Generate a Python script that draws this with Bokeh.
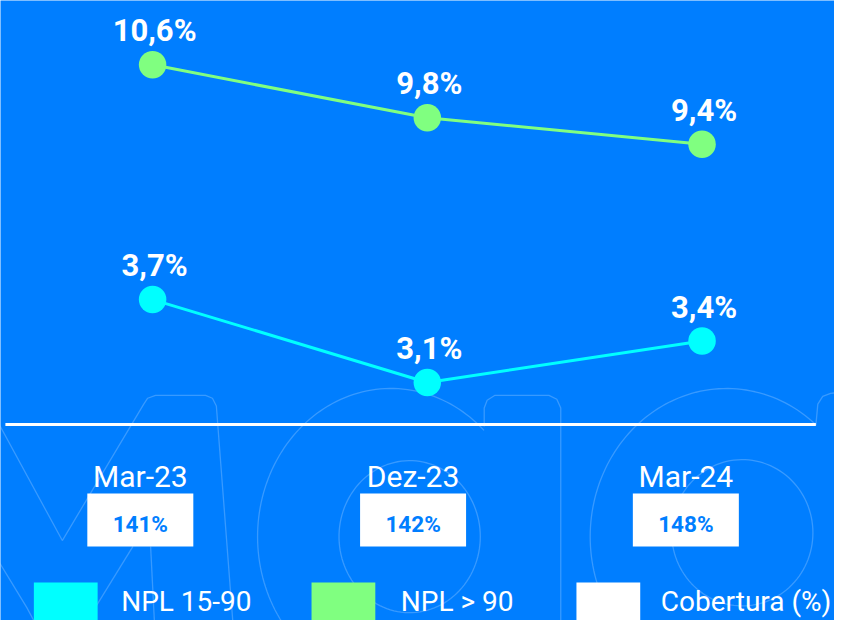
import numpy as np
from bokeh.plotting import figure
from bokeh.models import Range1d
from bokeh.core.properties import value
from bokeh.embed import file_html
from bokeh.resources import INLINE

# ---- data ----
periods = ["Mar-23", "Dez-23", "Mar-24"]
npl_15_90 = [3.7, 3.1, 3.4]
npl_90 = [10.6, 9.8, 9.4]
cobertura = [141, 142, 148]
legend_labels = ["NPL 15-90", "NPL > 90", "Cobertura (%)"]

# ---- style / layout ----
BG = "#007EFF"
CYAN = "#00FFFF"
GREEN = "#80FF80"
legend_colors = [CYAN, GREEN, "white"]
W, H = 834, 620          # canvas; layout below is given in an 850x636 design space
RW, RH = 850, 636
FONT = value("Roboto")

idx = list(range(len(periods)))


def pct(v):
    return f"{v:.1f}%".replace(".", ",")


p = figure(width=W, height=H, output_backend="svg", toolbar_location=None,
           x_range=Range1d(-0.5536, 2.4821), y_range=Range1d(2.217, 11.570),
           x_axis_location=None, y_axis_location=None, min_border=0,
           background_fill_color=BG, border_fill_color=BG, outline_line_color=None)
p.grid.visible = False
p.extra_y_ranges = {"cyan": Range1d(1.377, 5.865), "py": Range1d(RH, 0)}
p.extra_x_ranges = {"lab": Range1d(-0.5126, 2.5450), "px": Range1d(0, RW)}
L = dict(x_range_name="px", y_range_name="py")

# ---- faint watermark (decorative outline of logo letters) ----
WM = dict(line_color="white", line_alpha=0.22, line_width=1.3, **L)


def wline(pts):
    p.line([x for x, _ in pts], [y for _, y in pts], **WM)


def warc(cx, cy, a, b, t0, t1):
    t = np.linspace(t0, t1, 120)
    wline(list(zip(cx + a * np.cos(t), cy - b * np.sin(t))))


wline([(-5, 428), (63, 554), (146, 414), (150, 408), (158, 405), (209, 405),
       (216, 408), (220, 416), (237, 640)])
wline([(-5, 570), (27, 623), (36, 640)])
wline([(86, 640), (135, 560)])
wline([(153, 560), (157, 640)])
warc(398, 550, 136, 152, 0.80, 4.85)
warc(417, 550, 72, 78, 0, 2 * np.pi)
wline([(493, 437), (493, 418), (496, 410), (504, 405), (559, 405), (567, 409),
       (571, 418), (571, 640)])
warc(740, 550, 139, 152, 0.857, 4.85)
warc(756, 546, 72, 75, 0, 2 * np.pi)
wline([(831, 436), (833, 414), (838, 406), (846, 403), (855, 402)])

# ---- separator ----
p.segment(x0=5, y0=435, x1=831, y1=435, line_color="white", line_width=3, **L)

# ---- series ----
LBL = dict(y_offset=-34, x_offset=2, text_align="center", text_baseline="alphabetic",
           text_color="white", text_font=FONT, text_font_style="bold", text_font_size="31px")
p.line(idx, npl_90, line_color=GREEN, line_width=3)
p.scatter(idx, npl_90, size=27.5, fill_color=GREEN, line_color=None)
p.text(idx, npl_90, text=[pct(v) for v in npl_90], **LBL)

p.line(idx, npl_15_90, line_color=CYAN, line_width=3, y_range_name="cyan")
p.scatter(idx, npl_15_90, size=27.5, fill_color=CYAN, line_color=None, y_range_name="cyan")
p.text(idx, npl_15_90, text=[pct(v) for v in npl_15_90], y_range_name="cyan", **LBL)

# ---- categories and coverage boxes ----
p.text(x=idx, y=488, text=periods, x_range_name="lab", y_range_name="py",
       text_align="center", text_baseline="alphabetic", text_color="white",
       text_font=FONT, text_font_size="30px")
p.rect(x=idx, y=533, width=106, height=53, width_units="screen", height_units="screen",
       fill_color="white", line_color=None, x_range_name="lab", y_range_name="py")
p.text(x=idx, y=537, text=[f"{c}%" for c in cobertura], x_range_name="lab", y_range_name="py",
       text_align="center", text_baseline="alphabetic", text_color=BG,
       text_font=FONT, text_font_style="bold", text_font_size="22.5px")

# ---- legend (drawn by hand, in design space) ----
legend_box_left = [34, 317, 587]
legend_text_left = [123, 408, 673]
p.quad(left=legend_box_left, right=[x + 65 for x in legend_box_left], top=597, bottom=650,
       fill_color=legend_colors, line_color=None, **L)
p.text(x=legend_text_left, y=616, text=legend_labels, text_align="left",
       text_baseline="alphabetic", text_color="white", text_font=FONT,
       text_font_size="28px", **L)

open("out.html", "w").write(file_html(p, INLINE))
